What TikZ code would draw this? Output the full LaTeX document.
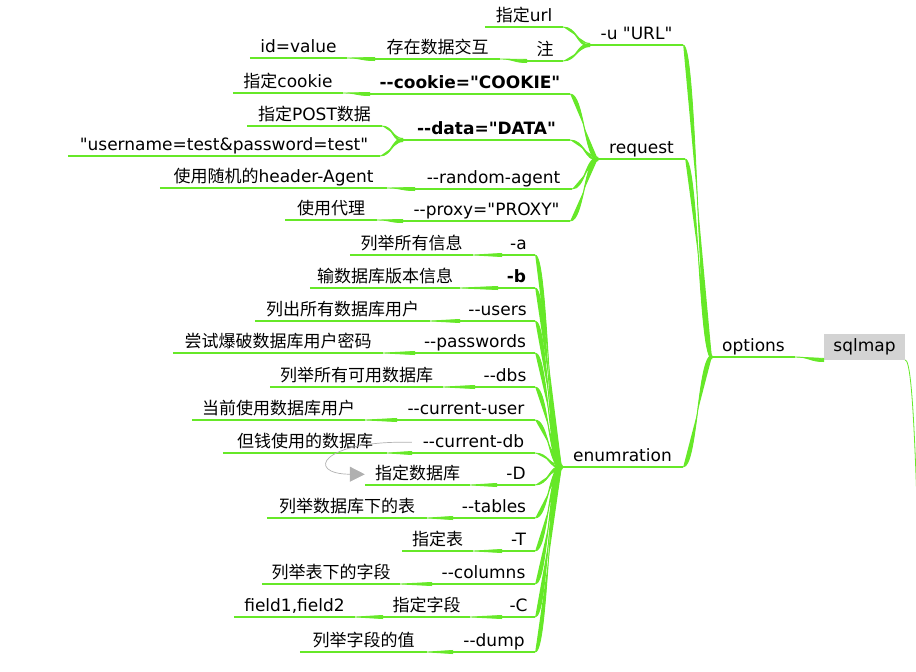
\documentclass[tikz,border=0pt]{standalone}
\usepackage{fontspec}
\setmainfont{DejaVu Sans}[Ligatures=TeXOff]
\newfontfamily\cjk{Noto Sans CJK SC}
\usetikzlibrary{calc,arrows.meta}
\definecolor{limbcol}{RGB}{102,232,40}
\definecolor{rootgray}{RGB}{211,211,211}
\definecolor{hintgray}{RGB}{176,176,176}
\tikzset{
  topic/.style={anchor=south, inner xsep=0pt, inner ysep=2.5pt, text height=13pt, text depth=3pt, font=\fontsize{17}{20}\selectfont},
  bold topic/.style={topic, font=\fontsize{17}{20}\selectfont\bfseries},
  underline/.style={draw=limbcol, line width=1.1pt},
}
% tapered branch: thick at the parent's left end, thin at the child's right end
\newcommand\limb[2]{%
  \fill[limbcol] let \p1=(#1.south west), \p2=(#2.south east), \n1={(\x1-\x2)/2} in
    (\x1,\y1+1.6pt) .. controls +(-\n1,0pt) and +(\n1,0pt) .. (\p2)
    .. controls +(\n1,0pt) and +(-\n1,0pt) .. (\x1,\y1-1.6pt) -- cycle
    [draw=limbcol, line width=0.8pt] (\p1) .. controls +(-\n1,0pt) and +(\n1,0pt) .. (\p2);
}
\begin{document}
\begin{tikzpicture}[x=1pt,y=-1pt]
  \useasboundingbox (0,0) rectangle (916,672);
  % root and main branches
  \node[topic, fill=rootgray, inner ysep=4pt, minimum height=26pt, minimum width=81pt] (root) at (864.5,360) {sqlmap};
  \node[topic, minimum width=83pt] (options) at (753.5,357) {options};
  \node[topic, minimum width=93pt] (uurl) at (636.5,45) {-u "URL"};
  \node[topic, minimum width=87pt] (request) at (641.5,159) {request};
  \node[topic, minimum width=121pt] (enum) at (622.5,467) {enumration};
  % -u "URL"
  \node[topic, minimum width=78pt] (url) at (524,27) {{\cjk 指定}url};
  \node[topic, minimum width=36pt] (zhu) at (545,61) {\cjk 注};
  \node[topic, minimum width=125pt] (jiaohu) at (437.5,59) {\cjk 存在数据交互};
  \node[topic, minimum width=97pt] (idval) at (298.5,58) {id=value};
  % request
  \node[bold topic, minimum width=200pt] (cookie) at (470,94) {--cookie="COOKIE"};
  \node[topic, minimum width=110pt] (cookieinfo) at (288,93) {{\cjk 指定}cookie};
  \node[bold topic, minimum width=167pt] (data) at (486.5,140) {--data="DATA"};
  \node[topic, minimum width=135pt] (post) at (314.5,126) {{\cjk 指定}POST{\cjk 数据}};
  \node[topic, minimum width=312pt] (sample) at (224,156) {"username=test\&password=test"};
  \node[topic, minimum width=157pt] (agent) at (493.5,189) {--random-agent};
  \node[topic, minimum width=227pt] (header) at (273.5,188) {{\cjk 使用随机的}header-Agent};
  \node[topic, minimum width=167pt] (proxy) at (486.5,221) {--proxy="PROXY"};
  \node[topic, minimum width=92pt] (daili) at (331,220) {\cjk 使用代理};
  % enumration
  \node[topic, minimum width=33pt] (a) at (518.5,255) {-a};
  \node[topic, minimum width=123pt] (ainfo) at (411.5,255) {\cjk 列举所有信息};
  \node[bold topic, minimum width=37pt] (b) at (516.5,288) {-b};
  \node[topic, minimum width=150pt] (binfo) at (385,288) {\cjk 输数据库版本信息};
  \node[topic, minimum width=75pt] (users) at (497.5,321) {--users};
  \node[topic, minimum width=175pt] (usersinfo) at (342.5,321) {\cjk 列出所有数据库用户};
  \node[topic, minimum width=120pt] (pw) at (475,353) {--passwords};
  \node[topic, minimum width=210pt] (pwinfo) at (278,353) {\cjk 尝试爆破数据库用户密码};
  \node[topic, minimum width=60pt] (dbs) at (505,387) {--dbs};
  \node[topic, minimum width=173pt] (dbsinfo) at (356.5,387) {\cjk 列举所有可用数据库};
  \node[topic, minimum width=138pt] (cu) at (466,420) {--current-user};
  \node[topic, minimum width=173pt] (cuinfo) at (278.5,420) {\cjk 当前使用数据库用户};
  \node[topic, minimum width=123pt] (cdb) at (473.5,453) {--current-db};
  \node[topic, minimum width=164pt] (cdbinfo) at (305,453) {\cjk 但钱使用的数据库};
  \node[topic, minimum width=38pt] (D) at (516,485) {-D};
  \node[topic, minimum width=105pt] (Dinfo) at (417.5,485) {\cjk 指定数据库};
  \node[topic, minimum width=82pt] (tables) at (494,518) {--tables};
  \node[topic, minimum width=160pt] (tablesinfo) at (347,518) {\cjk 列举数据库下的表};
  \node[topic, minimum width=33pt] (T) at (518.5,551) {-T};
  \node[topic, minimum width=71pt] (Tinfo) at (437.5,551) {\cjk 指定表};
  \node[topic, minimum width=103pt] (cols) at (483.5,584) {--columns};
  \node[topic, minimum width=138pt] (colsinfo) at (331,584) {\cjk 列举表下的字段};
  \node[topic, minimum width=33pt] (C) at (518.5,617) {-C};
  \node[topic, minimum width=87pt] (Cinfo) at (426.5,617) {\cjk 指定字段};
  \node[topic, minimum width=121pt] (fields) at (294.5,617) {field1,field2};
  \node[topic, minimum width=82pt] (dump) at (494,652) {--dump};
  \node[topic, minimum width=127pt] (dumpinfo) at (363.5,652) {\cjk 列举字段的值};

  \foreach \n in {options,uurl,request,enum,url,zhu,jiaohu,idval,cookie,cookieinfo,data,post,sample,agent,header,proxy,daili,
      a,ainfo,b,binfo,users,usersinfo,pw,pwinfo,dbs,dbsinfo,cu,cuinfo,cdb,cdbinfo,D,Dinfo,tables,tablesinfo,T,Tinfo,cols,colsinfo,C,Cinfo,fields,dump,dumpinfo}
    \draw[underline] (\n.south west) -- (\n.south east);

  \foreach \pa/\ch in {root/options,options/uurl,options/request,options/enum,uurl/url,uurl/zhu,zhu/jiaohu,jiaohu/idval,
      request/cookie,cookie/cookieinfo,request/data,data/post,data/sample,request/agent,agent/header,request/proxy,proxy/daili,
      enum/a,a/ainfo,enum/b,b/binfo,enum/users,users/usersinfo,enum/pw,pw/pwinfo,enum/dbs,dbs/dbsinfo,enum/cu,cu/cuinfo,
      enum/cdb,cdb/cdbinfo,enum/D,D/Dinfo,enum/tables,tables/tablesinfo,enum/T,T/Tinfo,enum/cols,cols/colsinfo,
      enum/C,C/Cinfo,Cinfo/fields,enum/dump,dump/dumpinfo}
    \limb{\pa}{\ch};

  % branch leaving the root to the right
  \coordinate (offpage) at (920,600);
  \draw[limbcol, line width=0.8pt] (root.south east) .. controls +(8,0) and +(-4,-130) .. (offpage);

  % relation --current-db -> 指定数据库
  \draw[hintgray, line width=0.7pt, -{Triangle[length=15pt,width=15pt]}]
    (cdb.west) .. controls (320,440) and (305,474) .. (Dinfo.west);
\end{tikzpicture}
\end{document}
